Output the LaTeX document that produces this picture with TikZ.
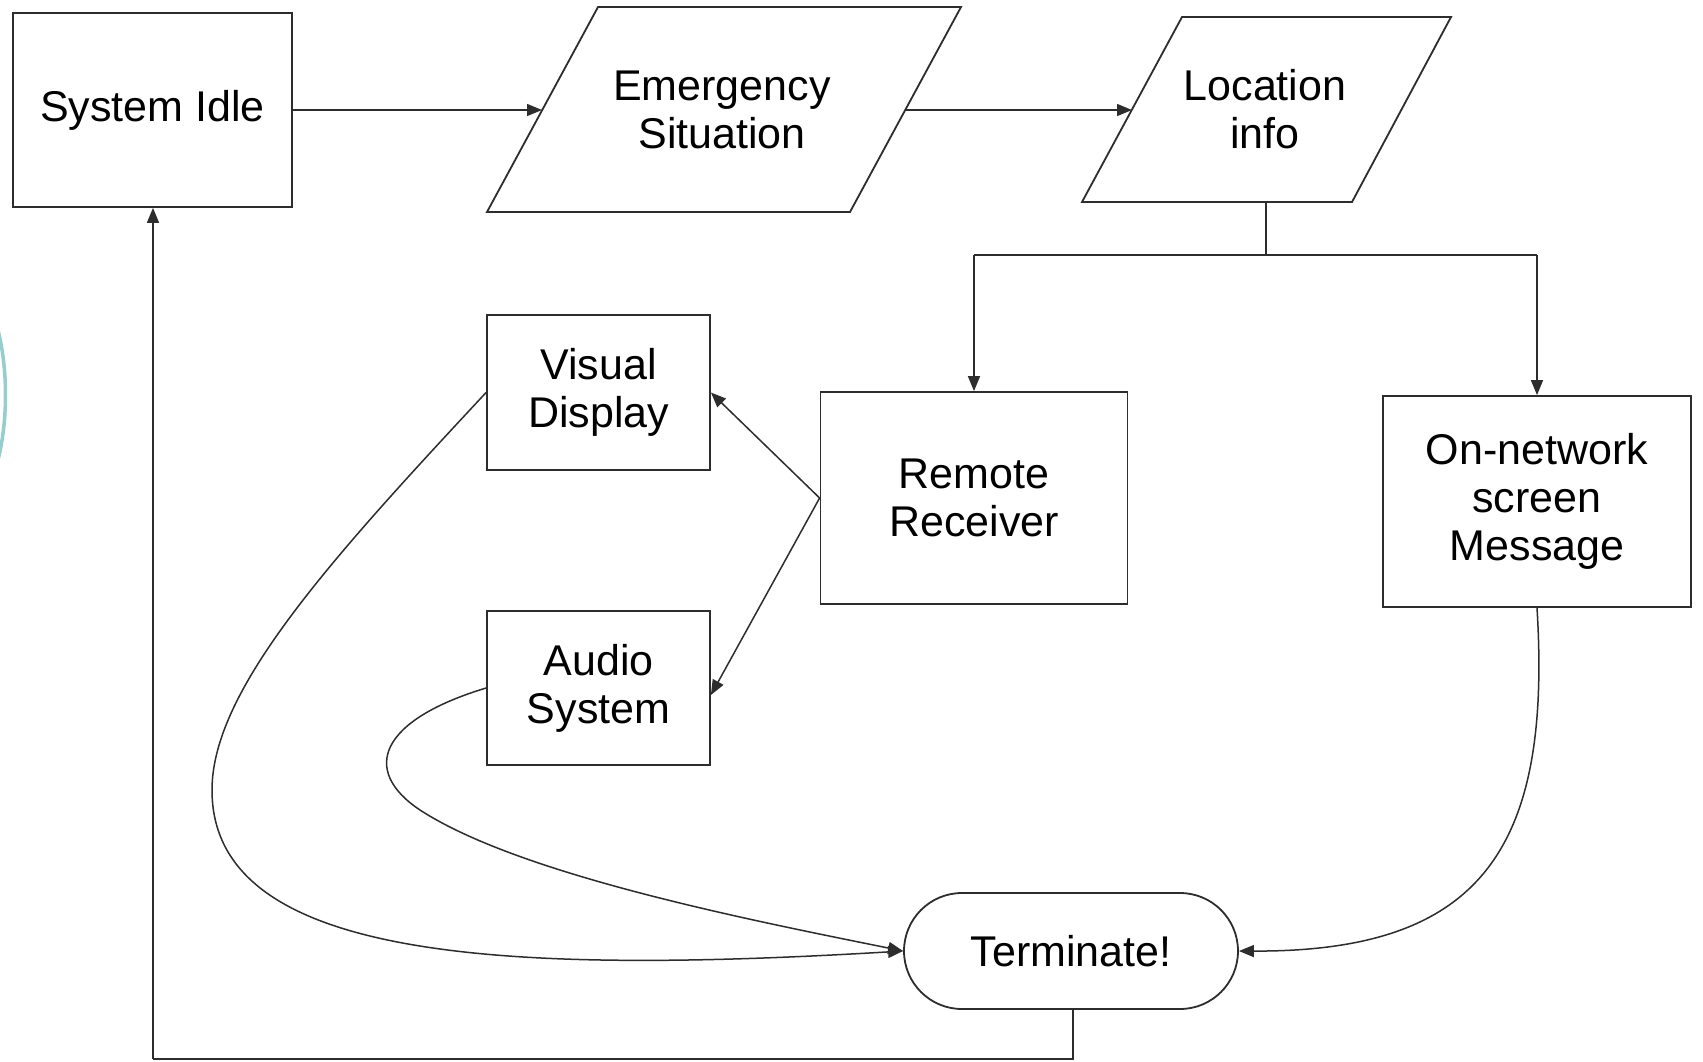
\documentclass[tikz,border=0pt]{standalone}
\usepackage{fontspec}
\setmainfont{Liberation Sans}
\usetikzlibrary{arrows.meta}
\definecolor{edge}{RGB}{45,45,45}
\definecolor{slideteal}{RGB}{150,205,205}
\tikzset{
  box/.style={draw=edge, line width=1.8pt, fill=white, align=center, inner sep=0pt,
    font=\fontsize{43}{48}\selectfont},
  txt/.style={align=center, inner sep=0pt, font=\fontsize{43}{48}\selectfont},
  conn/.style={draw=edge, line width=1.5pt, -{Triangle[length=15pt,width=12pt]}},
  plain/.style={draw=edge, line width=1.5pt},
  pgram/.style={draw=edge, line width=1.8pt, fill=white, line join=miter}
}
\begin{document}
\begin{tikzpicture}[x=1pt,y=-1pt]
\useasboundingbox[fill=white] (0,0) rectangle (1703,1061);
% slide decoration at the left edge
\draw[slideteal, line width=3.5pt] (-2,330) .. controls (8,370) and (8,420) .. (-2,460);

% nodes
\node[box, minimum width=279pt, minimum height=194pt] (idle) at (152.5,110) {System Idle};
\draw[pgram] (598,7) -- (961,7) -- (850,212) -- (487,212) -- cycle;
\node[txt] (emerg) at (722,109.5) {Emergency\\Situation};
\coordinate (emergW) at (542,110);
\coordinate (emergE) at (905,110);
\draw[pgram] (1182,17) -- (1451,17) -- (1352,202) -- (1082,202) -- cycle;
\node[txt] (loc) at (1265,109.5) {Location\\info};
\coordinate (locW) at (1132,110);
\coordinate (locS) at (1266,202);
\coordinate (split) at (1266,255);

\node[box, minimum width=223pt, minimum height=155pt] (vis) at (598.5,392.5) {Visual\\Display};
\node[box, minimum width=307pt, minimum height=212pt] (rr) at (974,498) {Remote\\Receiver};
\node[box, minimum width=308pt, minimum height=211pt] (on) at (1537,501.5) {On-network\\screen\\Message};
\node[box, minimum width=223pt, minimum height=154pt] (aud) at (598.5,688) {Audio\\System};
\node[box, minimum width=334pt, minimum height=116pt, rounded corners=58pt] (term) at (1071,951) {Terminate!};
\coordinate (splitL) at (rr.north |- split);
\coordinate (splitR) at (on.north |- split);
\coordinate (termS) at (1073,1008);
\coordinate (back1) at (1073,1059);
\coordinate (back2) at (153,1059);

% connectors
\draw[conn] (idle.east |- emergW) -- (emergW);
\draw[conn] (emergE) -- (locW);
\draw[plain] (locS) -- (split);
\draw[plain] (splitL) -- (splitR);
\draw[conn] (splitL) -- (rr.north);
\draw[conn] (splitR) -- (on.north);
\draw[conn] (rr.west) -- (vis.east);
\draw[conn] (rr.west) -- ([yshift=-7pt]aud.east);
\draw[conn] (vis.west) .. controls (330,560) and (212,690) .. (212,790)
  .. controls (212,960) and (500,975) .. (term.west);
\draw[conn] (aud.west) .. controls (380,720) and (360,770) .. (420,810)
  .. controls (520,875) and (750,920) .. (term.west);
\draw[conn] (on.south) .. controls (1552,850) and (1480,952) .. (term.east);
\draw[plain] (termS) -- (back1) -- (back2);
\draw[conn] (back2) -- (back2 |- idle.south);
\end{tikzpicture}
\end{document}
